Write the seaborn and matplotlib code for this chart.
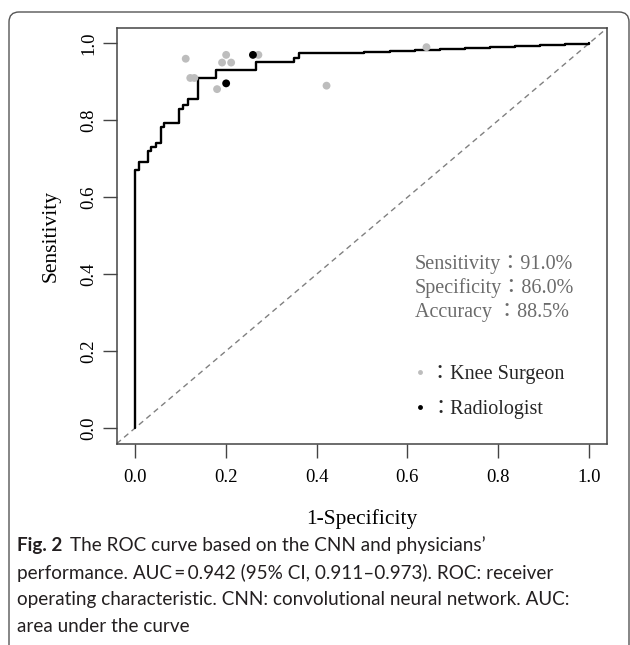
import matplotlib
matplotlib.use('Agg')
import matplotlib.pyplot as plt
import seaborn as sns
import pandas as pd
from matplotlib.lines import Line2D
from matplotlib.patches import FancyBboxPatch

# ROC curve of the CNN (corners of the staircase)
roc_fpr = [0.0, 0.0, 0.010, 0.028, 0.035, 0.046, 0.057, 0.065, 0.098, 0.105,
           0.118, 0.138, 0.179, 0.267, 0.351, 0.362, 0.505, 0.561, 0.616,
           0.671, 0.726, 0.781, 0.836, 0.891, 0.946, 1.0]
roc_tpr = [0.0, 0.671, 0.692, 0.721, 0.731, 0.740, 0.783, 0.792, 0.829, 0.840,
           0.855, 0.911, 0.931, 0.952, 0.961, 0.974, 0.977, 0.981, 0.983,
           0.986, 0.989, 0.991, 0.994, 0.996, 0.998, 1.0]

# physicians
surgeon_fpr = [0.112, 0.201, 0.192, 0.212, 0.122, 0.131, 0.181, 0.272, 0.642, 0.422]
surgeon_tpr = [0.960, 0.970, 0.950, 0.950, 0.910, 0.910, 0.881, 0.970, 0.990, 0.890]
radiologist_fpr = [0.260, 0.201]
radiologist_tpr = [0.970, 0.896]

ticks = [0.0, 0.2, 0.4, 0.6, 0.8, 1.0]
tick_labels = ['0.0', '0.2', '0.4', '0.6', '0.8', '1.0']

stats_lines = ['Sensitivity\uff1a91.0%', 'Specificity\uff1a86.0%', 'Accuracy \uff1a88.5%']
legend_labels = ['\uff1aKnee Surgeon', '\uff1aRadiologist']

caption_bold = 'Fig. 2'
caption_lines = ['The ROC curve based on the CNN and physicians\u2019',
                 'performance. AUC\u2009=\u20090.942 (95% CI, 0.911\u20130.973). ROC: receiver',
                 'operating characteristic. CNN: convolutional neural network. AUC:',
                 'area under the curve']

sns.set_theme(style='white')
plt.rcParams['font.family'] = ['Liberation Serif', 'Noto Sans CJK TC', 'DejaVu Sans']

fig = plt.figure(figsize=(6.3, 6.45), dpi=100)
ax = fig.add_axes([0.1852, 0.3122, 0.7787, 0.6445])

roc = pd.DataFrame({'fpr': roc_fpr, 'tpr': roc_tpr})
sns.lineplot(data=roc, x='fpr', y='tpr', estimator=None, sort=False,
             drawstyle='steps-post', color='black', lw=1.7, ax=ax, zorder=3)
ax.axline((0, 0), (1, 1), color='#808080', ls=(0, (4, 3)), lw=1, zorder=2)

sns.scatterplot(x=surgeon_fpr, y=surgeon_tpr, color='#bdbdbd', s=32,
                edgecolor='none', ax=ax, zorder=4)
sns.scatterplot(x=radiologist_fpr, y=radiologist_tpr, color='black', s=32,
                edgecolor='none', ax=ax, zorder=5)

ax.set_xlim(-0.04, 1.04)
ax.set_ylim(-0.04, 1.04)
ax.set_xticks(ticks)
ax.set_xticklabels(tick_labels)
ax.set_yticks(ticks)
ax.set_yticklabels(tick_labels, rotation=90, va='center')
ax.tick_params(bottom=True, left=True, direction='out', length=10, width=1,
               color='#444444', labelsize=13.5, labelcolor='black')
ax.tick_params(axis='x', pad=8)
ax.tick_params(axis='y', pad=4)
for s in ax.spines.values():
    s.set_color('#444444')
    s.set_linewidth(1.1)

ax.set_xlabel('1-Specificity', fontsize=15.5, labelpad=17, color='black')
ax.set_ylabel('Sensitivity', fontsize=15.5, labelpad=14, color='black')

# stats block
for i, line in enumerate(stats_lines):
    ax.text(0.616, 0.425 - i * 0.062, line, fontsize=14.5, color='#6b6b6b',
            va='center', ha='left')

handles = [Line2D([], [], ls='none', marker='o', markersize=3.5,
                  markerfacecolor='#bdbdbd', markeredgecolor='none'),
           Line2D([], [], ls='none', marker='o', markersize=3.5,
                  markerfacecolor='black', markeredgecolor='none')]
leg = ax.legend(handles, legend_labels, loc='upper left',
                bbox_to_anchor=(0.565, 0.232), frameon=False, fontsize=14.5,
                handlelength=0.8, handletextpad=0.1, labelspacing=0.78)

# caption
cap_kw = dict(fontsize=13.6, color='#231f20', family=['Lato', 'DejaVu Sans'])
x0 = 17 / 630
ys = [545, 573, 600, 627]
tb = fig.text(x0, 1 - ys[0] / 645, caption_bold, fontweight='bold', va='center', **cap_kw)
fig.canvas.draw()
bb = tb.get_window_extent(fig.canvas.get_renderer())
fig.text(bb.x1 / 630 + 8 / 630, 1 - ys[0] / 645, caption_lines[0], va='center', **cap_kw)
for y, line in zip(ys[1:], caption_lines[1:]):
    fig.text(x0, 1 - y / 645, line, va='center', **cap_kw)

# rounded frame around the figure
frame = FancyBboxPatch((0.09, -0.12), 6.2, 6.45, boxstyle='round,pad=0,rounding_size=0.1',
                       transform=fig.dpi_scale_trans, fill=False, edgecolor='#555555', lw=1)
fig.add_artist(frame)

fig.savefig('out.png', dpi=100)
